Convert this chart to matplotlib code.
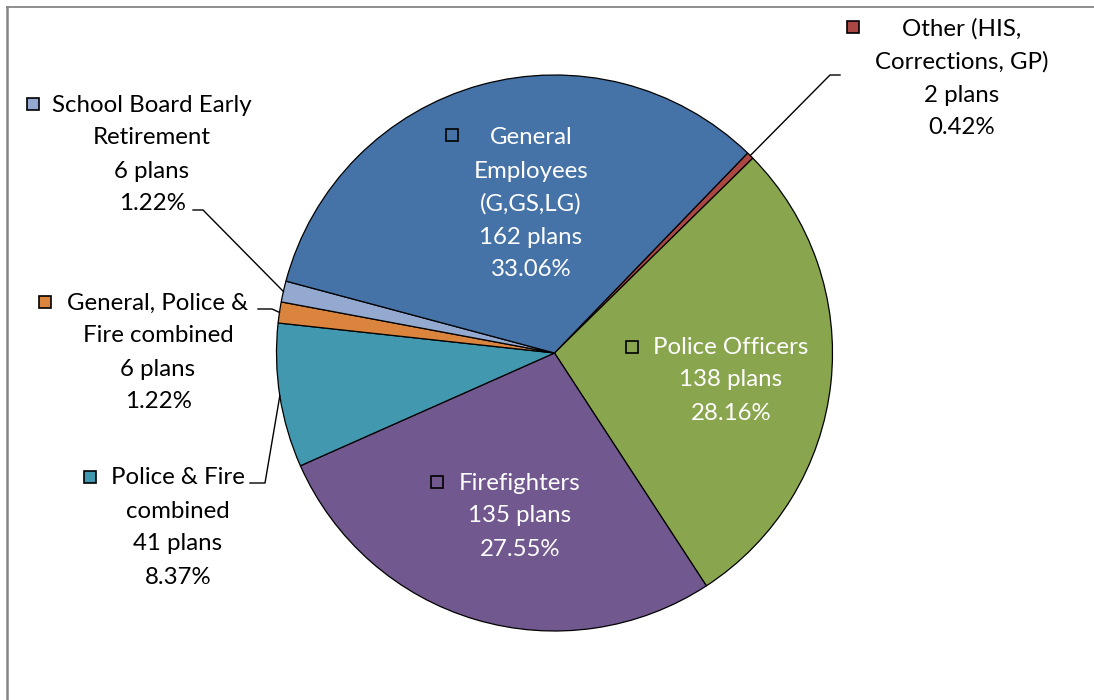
import matplotlib
matplotlib.use("Agg")
import matplotlib.pyplot as plt
from matplotlib.patches import Rectangle
import numpy as np

# ---- data ----
categories = ["Other (HIS,\nCorrections, GP)", "Police Officers", "Firefighters",
              "Police & Fire\ncombined", "General, Police &\nFire combined",
              "School Board Early\nRetirement", "General\nEmployees\n(G,GS,LG)"]
plans = [2, 138, 135, 41, 6, 6, 162]
percents = [0.42, 28.16, 27.55, 8.37, 1.22, 1.22, 33.06]
colors = ["#AA4643", "#89A54E", "#71588F", "#4198AF", "#DB843D", "#93A9CF", "#4572A7"]

# ---- layout (pixel coords, origin top-left) ----
W, H = 1094, 700
center_px = (554.5, 353)
radius_px = 278
# (key_x, key_y, text_center_x, first_line_y, text_color, leader elbow points)
label_layout = [
    (853, 27, 962, 29, "black", [(830, 75), (840, 75)]),
    (632, 347, 731, 347, "white", None),
    (437, 482, 520, 483, "white", None),
    (90, 477, 178, 478, "black", [(265, 483), (250, 483)]),
    (45, 302, 158, 303, "black", [(272, 309), (258, 309)]),
    (33, 104, 152, 105, "black", [(203, 210), (193, 210)]),
    (452, 135, 531, 138, "white", None),
]
line_gap = 33

plt.rcParams['font.family'] = ['Lato', 'DejaVu Sans']
fig = plt.figure(figsize=(W / 100, H / 100), dpi=100)
ax = fig.add_axes([0, 0, 1, 1])

def Y(y):
    return H - y

wedges, _ = ax.pie(percents, colors=colors, startangle=46, counterclock=False,
                   center=(center_px[0], Y(center_px[1])), radius=radius_px,
                   wedgeprops=dict(edgecolor="black", linewidth=0.9),
                   frame=True)
ax.set_xlim(0, W)
ax.set_ylim(0, H)
ax.set_aspect('equal')
ax.axis('off')

for i, (w, lay) in enumerate(zip(wedges, label_layout)):
    kx, ky, tx, ty, tcol, leader = lay
    lines = categories[i].split("\n") + [f"{plans[i]} plans", f"{percents[i]:.2f}%"]
    # first line is offset to the right of the legend key; others centred
    for j, ln in enumerate(lines):
        ax.text(tx, Y(ty + j * line_gap), ln, ha="center", va="center",
                fontsize=17.3, color=tcol)
    ax.add_patch(Rectangle((kx - 6, Y(ky) - 6), 12, 12, facecolor=colors[i],
                           edgecolor="black", linewidth=1.2, zorder=5))
    if leader:
        mid = np.deg2rad((w.theta1 + w.theta2) / 2)
        cx, cy = w.center
        sx = cx + w.r * np.cos(mid)
        sy = cy + w.r * np.sin(mid)
        xs = [sx] + [p[0] for p in leader]
        ys = [sy] + [Y(p[1]) for p in leader]
        ax.plot(xs, ys, color="black", linewidth=1.0, zorder=4)

# chart-area border (top and left visible)
ax.plot([7, W], [Y(7), Y(7)], color="#868686", linewidth=1.3, clip_on=False)
ax.plot([7, 7], [Y(7), 0], color="#868686", linewidth=1.8, clip_on=False)

fig.savefig("out.png", dpi=100)
